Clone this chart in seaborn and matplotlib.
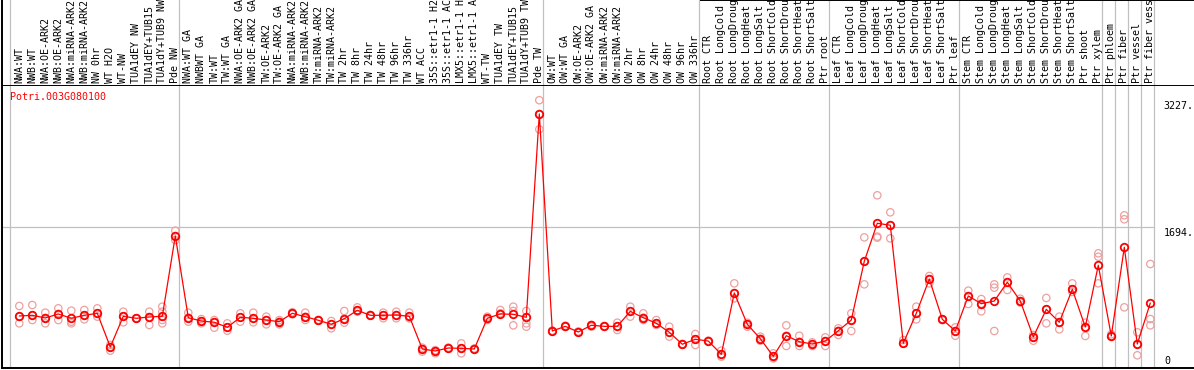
import matplotlib
matplotlib.use("Agg")
import matplotlib.pyplot as plt
import seaborn as sns
import numpy as np
import pandas as pd

# ---------------- data ----------------
gene = "Potri.003G080100"

samples = [
    "NWA:WT", "NWB:WT", "NWA:OE-ARK2", "NWB:OE-ARK2", "NWA:miRNA-ARK2", "NWB:miRNA-ARK2",
    "NW 0hr", "WT H2O", "WT-NW", "TUA1dEY NW", "TUA1dEY+TUB15", "TUA1dY+TUB9 NW", "Pde NW",
    "NWA:WT GA", "NWBWT GA", "TW:WT", "TW:WT GA", "NWA:OE-ARK2 GA", "NWB:OE-ARK2 GA",
    "TW:OE-ARK2", "TW:OE-ARK2 GA", "NWA:miRNA-ARK2", "NWB:miRNA-ARK2", "TW:miRNA-ARK2",
    "TW:miRNA-ARK2", "TW 2hr", "TW 8hr", "TW 24hr", "TW 48hr", "TW 96hr", "TW 336hr",
    "WT ACC", "35S::etr1-1 H2", "35S::etr1-1 AC", "LMX5::etr1-1 H", "LMX5::etr1-1 A",
    "WT-TW", "TUA1dEY TW", "TUA1dEY+TUB15", "TUA1dY+TUB9 TW", "Pde TW",
    "OW:WT", "OW:WT GA", "OW:OE-ARK2", "OW:OE-ARK2 GA", "OW:miRNA-ARK2", "OW:miRNA-ARK2",
    "OW 2hr", "OW 8hr", "OW 24hr", "OW 48hr", "OW 96hr", "OW 336hr",
    "Root CTR", "Root LongCold", "Root LongDroug", "Root LongHeat", "Root LongSalt",
    "Root ShortCold", "Root ShortDrou", "Root ShortHeat", "Root ShortSalt", "Ptr root",
    "Leaf CTR", "Leaf LongCold", "Leaf LongDroug", "Leaf LongHeat", "Leaf LongSalt",
    "Leaf ShortCold", "Leaf ShortDrou", "Leaf ShortHeat", "Leaf ShortSalt", "Ptr leaf",
    "Stem CTR", "Stem LongCold", "Stem LongDroug", "Stem LongHeat", "Stem LongSalt",
    "Stem ShortCold", "Stem ShortDrou", "Stem ShortHeat", "Stem ShortSalt", "Ptr shoot",
    "Ptr xylem", "Ptr phloem", "Ptr fiber", "Ptr vessel", "Ptr fiber vess",
]

means = [
    627, 635, 603, 651, 599, 635, 659, 253, 623, 599, 615, 623, 1591,
    606, 566, 551, 490, 611, 599, 578, 558, 659, 618, 575, 527, 594, 695, 635, 635,
    639, 623, 229, 205, 241, 237, 229, 599, 651, 647, 611, 3061,
    446, 502, 434, 515, 502, 502, 683, 606, 539, 430, 286, 346,
    325, 165, 904, 527, 353, 141, 389, 317, 289, 325,
    449, 578, 1286, 1744, 1720, 298, 659, 1072, 587, 446,
    868, 775, 807, 1033, 807, 374, 707, 551, 948, 494, 1238,
    386, 1454, 289, 783,
]

replicates = [
    [747, 619, 538], [759, 578, 635], [667, 538, 603], [719, 578, 651], [691, 558, 538],
    [699, 586, 635], [719, 619, 659], [277, 209, 253], [679, 550, 623], [599, 599, 599],
    [679, 518, 615], [739, 538, 679, 578], [1655, 1542, 1591],
    [667, 558, 606], [566, 538, 590], [578, 486, 551], [538, 450, 490], [659, 558, 611],
    [667, 550, 599], [619, 526, 578], [578, 526, 558], [672, 647, 659], [667, 578, 618],
    [575, 580, 570], [566, 478, 527], [687, 546, 594], [731, 679, 695], [635, 640, 630],
    [667, 599, 635], [679, 599, 639], [667, 599, 623], [229, 197, 245], [205, 177, 215],
    [241, 245, 235], [297, 177, 237], [229, 225, 235], [619, 578, 599], [699, 659, 651],
    [739, 514, 687], [687, 498, 538], [3227, 2876, 3061],
    [446, 450, 440], [502, 510, 495], [434, 440, 430], [515, 498, 520], [502, 505, 498],
    [502, 458, 546], [739, 619, 683], [659, 578, 606], [578, 518, 539], [498, 378, 430],
    [286, 290, 280], [410, 277, 346],
    [325, 330, 320], [209, 137, 165], [1020, 839, 904], [546, 498, 527], [378, 329, 353],
    [177, 116, 141], [514, 265, 389], [389, 265, 317], [309, 265, 289], [369, 265, 325],
    [478, 398, 449], [659, 446, 578], [1574, 1008, 1286], [2081, 1583, 1571],
    [1876, 1562, 1720], [337, 297, 298], [739, 586, 659], [1109, 1020, 1072],
    [578, 590, 587], [490, 389, 446],
    [932, 771, 868], [831, 683, 775], [1008, 968, 446], [1092, 940, 1033], [835, 807, 790],
    [398, 329, 374], [844, 538, 707], [619, 466, 551], [1020, 916, 948], [546, 386, 494],
    [1382, 1341, 1020], [406, 386, 380], [1840, 1792, 731], [430, 153, 289],
    [1253, 590, 514],
]

# group boundaries (index of first sample of each new group)
group_starts = [0, 13, 41, 53, 63, 73, 84, 85, 86, 87, 88]
ytick_values = [3227, 1694, 0]
ytick_labels = ["3227.", "1694.", "0"]

# ---------------- styling / layout ----------------
W, H, DPI = 1194, 370, 100
sns.set_style("white")
plt.rcParams["font.family"] = ["DejaVu Sans Mono", "DejaVu Sans"]
FS = 7.2
GRID = "#c0c0c0"
REP = "#eea0a0"

fig = plt.figure(figsize=(W / DPI, H / DPI), dpi=DPI)

px_per_col = 13.0
x0_px = 19.3  # pixel of sample 0
xlim = ((2 - x0_px) / px_per_col, (1194 - x0_px) / px_per_col)
sep_offset = (10 - x0_px) / px_per_col  # separator relative to sample index

# main axes: x from 2 to 1194 px, y from 85 to 368 px
ax = fig.add_axes([2 / W, 2 / H, (W - 2) / W, 283 / H])
hax = fig.add_axes([2 / W, 285 / H, (W - 2) / W, 85 / H])

units_per_px = 12.05
ax.set_xlim(*xlim)
ax.set_ylim(0, 283 * units_per_px)

idx = np.arange(len(samples))
rep_x = [i for i, r in enumerate(replicates) for _ in r]
rep_y = [v for r in replicates for v in r]
rep_df = pd.DataFrame({"x": rep_x, "y": rep_y})
mean_df = pd.DataFrame({"x": idx, "y": means})

# separators
sep_x = [g + sep_offset for g in group_starts]
for s in sep_x:
    ax.axvline(s, color=GRID, lw=0.9, zorder=0)
    hax.axvline(s, color=GRID, lw=0.9, zorder=0)
ax.hlines(1694, xlim[0], sep_x[-1], color=GRID, lw=0.9, zorder=0)

sns.scatterplot(data=rep_df, x="x", y="y", ax=ax, marker="o", s=28,
                facecolors="none", edgecolor=REP, linewidth=0.9, zorder=2, legend=False)
sns.lineplot(data=mean_df, x="x", y="y", ax=ax, color="red", lw=0.9,
             marker="o", markersize=5.4, markerfacecolor="none",
             markeredgecolor="red", markeredgewidth=1.3, zorder=3, legend=False)

ax.set_xlim(*xlim)
ax.set_ylim(0, 283 * units_per_px)
ax.set_xticks([])
ax.set_yticks([])
ax.set_xlabel("")
ax.set_ylabel("")
for side in ["left", "bottom", "top"]:
    ax.spines[side].set_visible(True)
    ax.spines[side].set_color("black")
    ax.spines[side].set_linewidth(1.4)
ax.spines["right"].set_visible(False)

# y tick labels on the right
label_x = (1163.5 - x0_px) / px_per_col
for v, t in zip(ytick_values, ytick_labels):
    if v == 0:
        ax.annotate(t, xy=(label_x, v), xytext=(1, 2), textcoords="offset pixels",
                    ha="left", va="bottom", fontsize=FS, color="black")
    else:
        ax.annotate(t, xy=(label_x, v), xytext=(0, -6), textcoords="offset pixels",
                    ha="left", va="center", fontsize=FS, color="black")

# gene title
ax.annotate(gene, xy=(sep_x[0], 283 * units_per_px), xytext=(0, -12),
            textcoords="offset pixels", ha="left", va="center",
            fontsize=FS, color="red")

# header with rotated sample labels
hax.set_xlim(*xlim)
hax.set_ylim(0, 85)
hax.set_xticks([])
hax.set_yticks([])
for i, lab in enumerate(samples):
    hax.text(i, 2, lab, rotation=90, ha="center", va="bottom",
             fontsize=FS, color="black")
hax.spines["left"].set_visible(True)
hax.spines["left"].set_color("black")
hax.spines["left"].set_linewidth(1.4)
for side in ["right", "bottom", "top"]:
    hax.spines[side].set_visible(False)
hax.hlines(85, (700 - x0_px) / px_per_col, xlim[1], color="black", lw=1.4, clip_on=False)

fig.savefig("out.png", dpi=DPI)
